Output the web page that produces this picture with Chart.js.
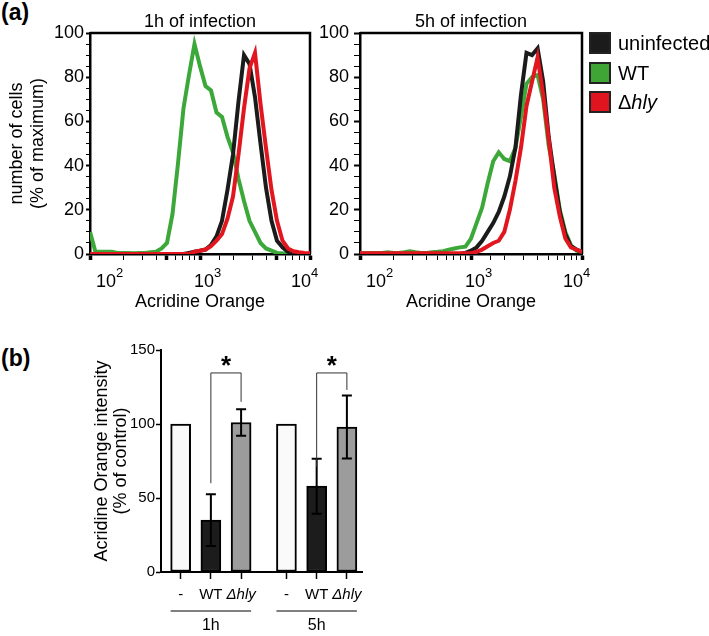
<!DOCTYPE html>
<html>
<head>
<meta charset="utf-8">
<script src="https://cdn.jsdelivr.net/npm/chart.js@4.4.1/dist/chart.umd.min.js"></script>
<style>
    body { margin: 0; background: #fff; width: 709px; height: 636px; position: relative; overflow: hidden;
           font-family: 'Liberation Sans', Arial, sans-serif; color: #000; }
    canvas { position: absolute; }
    .tag { position: absolute; font-weight: bold; font-size: 23px; }
    .leg { position: absolute; left: 589px; height: 22px; display: flex; align-items: center; font-size: 20px; }
    .leg-box { width: 18px; height: 18px; border: 2px solid #222; margin-right: 7px; }
</style>
</head>
<body>
<div class="tag" style="left:1px;top:-1px">(a)</div>
<div class="tag" style="left:1px;top:345px">(b)</div>

<canvas id="chart-1h" width="330" height="320" style="left:0;top:0"></canvas>
<canvas id="chart-5h" width="399" height="320" style="left:310px;top:0"></canvas>
<canvas id="chart-bars" width="709" height="306" style="left:0;top:330px"></canvas>

<div class="leg" style="top:32px"><div class="leg-box" style="background:#1b1b1b"></div>uninfected</div>
<div class="leg" style="top:62px"><div class="leg-box" style="background:#3fa535"></div>WT</div>
<div class="leg" style="top:91px"><div class="leg-box" style="background:#e0141e"></div><span>Δ</span><i>hly</i></div>

<script>
// ─── DATA: histograms (Acridine Orange, % of maximum) ─────
const intensity = [100, 112, 126, 141, 158, 178, 200, 224, 251, 282, 316, 355, 398, 447, 501, 562, 631, 708, 794, 891,
    1000, 1122, 1259, 1413, 1585, 1778, 1995, 2239, 2512, 2818, 3162, 3548, 3981, 4467, 5012, 5623, 6310, 7079, 7943, 8913, 10000]

const wt1h = [10, 1, 1, 1, 1, 0.5, 0.5, 0.5, 0.3, 0.5, 0.5, 0.8, 1, 2.5, 5, 18, 41, 66, 81, 95,
    85, 76, 74, 64, 62, 53, 46, 34, 24, 15, 10, 5, 2.5, 1.5, 0.5, 0.3, 0.2, 0, 0, 0, 0]
const uninf1h = [0, 0, 0, 0, 0, 0, 0, 0, 0, 0, 0, 0, 0, 0, 0, 0, 0, 0, 0.5, 1,
    1.5, 2, 4, 8, 15, 29, 45, 69, 90, 86, 71, 50, 30, 15, 6, 3, 1, 0.5, 0.2, 0, 0]
const hly1h = [0, 0, 0, 0, 0, 0, 0, 0, 0, 0, 0, 0, 0, 0, 0, 0, 0, 0, 0, 1,
    1.5, 2, 3.5, 6, 9, 16, 26, 45, 66, 84, 91, 68, 48, 29, 15, 6, 2.5, 1.2, 0.8, 0.5, 0.3]

const wt5h = [0.3, 0.3, 0.5, 0.5, 0.5, 0.8, 0.5, 0.5, 0.8, 1.2, 0.8, 0.5, 0.5, 0.8, 1, 1.3, 2, 2.5, 3, 3.3,
    7, 14, 21, 32, 42, 46, 43, 42, 48, 62, 77, 80, 81, 70, 49, 36, 20, 10, 4, 1.5, 1]
const uninf5h = [0, 0, 0, 0, 0, 0, 0, 0, 0, 0, 0, 0, 0, 0, 0, 0, 0, 0, 0, 0.5,
    1.5, 3, 6, 10, 14, 19, 26, 35, 48, 72, 91, 90, 93, 78, 53, 35, 19, 9, 3.5, 2, 1]
const hly5h = [0.3, 0.3, 0.3, 0.3, 0.3, 0.3, 0.3, 0.3, 0.3, 0.3, 0.3, 0.3, 0.3, 0.3, 0.3, 0.3, 0.3, 0.3, 0.3, 0.3,
    0.3, 1, 2, 3.5, 5, 6, 10, 20, 33, 48, 67, 78, 89, 72, 52, 30, 17, 7, 3, 2, 1]

const decades = [100, 1000, 10000]
const decadeExp = ['2', '3', '4']

// ─── DATA: bar chart (b) ──────────────────────────────────
const groupLabels = ['1h', '5h']
const barLabels = ['-', 'WT', 'Δhly', '-', 'WT', 'Δhly']
const barPos = [1, 2, 3, 4.5, 5.5, 6.5]
const barMeans = [100, 35, 101, 100, 58, 98]
const barErr = [0, 17.5, 9, 0, 18.6, 21.3]
const barColors = ['#fafafa', '#1c1c1c', '#9c9c9c', '#fafafa', '#1c1c1c', '#9c9c9c']
// significance: bar indexes, bracket top, leg bottoms
const sigPairs = [[1, 2], [4, 5]]
const sigTop = [134.5, 134.5]
const sigLegLow = [[60, 115], [71, 123]]

const GREEN = '#3da83a'
const RED = '#e1161f'
const BLACK = '#1b1b1b'
const SANS = "'Liberation Sans', Arial, sans-serif"

Chart.defaults.font.family = SANS
Chart.defaults.color = '#000'

// ─── PLUGINS ──────────────────────────────────────────────
const panelFrame = {
    id: 'panelFrame',
    beforeDatasetsDraw(chart) {
        const { ctx, chartArea: a } = chart
        ctx.save()
        ctx.strokeStyle = '#000'
        ctx.lineWidth = 2.5
        ctx.beginPath()
        ctx.moveTo(a.left, a.top)
        ctx.lineTo(a.right, a.top)
        ctx.lineTo(a.right, a.bottom)
        ctx.stroke()
        ctx.restore()
    },
    afterDraw(chart, args, opts) {
        const { ctx, chartArea: a, scales: { x } } = chart
        ctx.save()
        ctx.fillStyle = '#000'
        ctx.font = `18px ${SANS}`
        ctx.textAlign = 'center'
        ctx.textBaseline = 'alphabetic'
        ctx.fillText(opts.text, (a.left + a.right) / 2, 27)

        // decade labels 10^n, pulled inward at the ends like the original
        const shift = [16, 4, -9]
        decades.forEach((d, i) => {
            const cx = x.getPixelForValue(d) + shift[i]
            ctx.font = `18px ${SANS}`
            ctx.textAlign = 'center'
            ctx.fillText('10', cx, a.bottom + 33)
            const w = ctx.measureText('10').width
            ctx.font = `13px ${SANS}`
            ctx.textAlign = 'left'
            ctx.fillText(decadeExp[i], cx + w / 2, a.bottom + 23)
        })
        ctx.restore()
    }
}

const barExtras = {
    id: 'barExtras',
    afterDatasetsDraw(chart) {
        const { ctx, chartArea: a, scales: { x, y } } = chart
        ctx.save()
        ctx.strokeStyle = '#000'
        ctx.lineWidth = 2
        barPos.forEach((p, i) => {
            if (!barErr[i]) return
            const px = x.getPixelForValue(p)
            const hi = y.getPixelForValue(barMeans[i] + barErr[i])
            const lo = y.getPixelForValue(barMeans[i] - barErr[i])
            ctx.beginPath()
            ctx.moveTo(px, hi); ctx.lineTo(px, lo)
            ctx.moveTo(px - 5, hi); ctx.lineTo(px + 5, hi)
            ctx.moveTo(px - 5, lo); ctx.lineTo(px + 5, lo)
            ctx.stroke()
        })

        sigPairs.forEach(([i, j], k) => {
            const xa = x.getPixelForValue(barPos[i])
            const xb = x.getPixelForValue(barPos[j])
            const top = y.getPixelForValue(sigTop[k])
            ctx.strokeStyle = '#333'
            ctx.lineWidth = 1
            ctx.beginPath()
            ctx.moveTo(xa, y.getPixelForValue(sigLegLow[k][0]))
            ctx.lineTo(xa, top)
            ctx.lineTo(xb, top)
            ctx.lineTo(xb, y.getPixelForValue(sigLegLow[k][1]))
            ctx.stroke()
            ctx.fillStyle = '#000'
            ctx.font = `bold 26px ${SANS}`
            ctx.textAlign = 'center'
            ctx.textBaseline = 'alphabetic'
            ctx.fillText('*', (xa + xb) / 2, top + 1)
        })

        groupLabels.forEach((g, k) => {
            const x0 = x.getPixelForValue(barPos[k * 3]) - 10
            const x1 = x.getPixelForValue(barPos[k * 3 + 2]) + 10
            const ly = a.bottom + 39
            ctx.strokeStyle = '#000'
            ctx.lineWidth = 1
            ctx.beginPath()
            ctx.moveTo(x0, ly); ctx.lineTo(x1, ly)
            ctx.stroke()
            ctx.fillStyle = '#000'
            ctx.font = `16px ${SANS}`
            ctx.textAlign = 'center'
            ctx.textBaseline = 'middle'
            ctx.fillText(g, (x0 + x1) / 2, a.bottom + 54)
        })
        ctx.restore()
    }
}

// ─── HISTOGRAMS ───────────────────────────────────────────
function points(values) {
    return intensity.map((v, i) => ({ x: v, y: values[i] }))
}

function histogram(id, title, series, cfg) {
    return new Chart(document.getElementById(id), {
        type: 'line',
        data: {
            datasets: [
                { label: 'Δhly', data: points(series.hly), borderColor: RED, order: 1 },
                { label: 'uninfected', data: points(series.uninf), borderColor: BLACK, order: 2 },
                { label: 'WT', data: points(series.wt), borderColor: GREEN, order: 3 }
            ]
        },
        options: {
            responsive: false,
            animation: false,
            elements: { point: { radius: 0 }, line: { borderWidth: 4, tension: 0 } },
            layout: { padding: { top: 33, right: cfg.padRight, bottom: 7, left: 0 } },
            plugins: { legend: { display: false }, tooltip: { enabled: false }, panelFrame: { text: title } },
            scales: {
                x: {
                    type: 'logarithmic', min: 100, max: 10000,
                    afterFit: s => { s.height = 59 },
                    border: { color: '#000', width: 2.5 },
                    grid: {
                        drawOnChartArea: false, tickLength: 6, tickColor: '#000',
                        tickWidth: c => c.tick && cfg.majorX.includes(c.tick.value) ? 3.5 : 1
                    },
                    ticks: { autoSkip: false, maxRotation: 0, callback: () => '' },
                    title: { display: true, text: 'Acridine Orange', color: '#000', font: { size: 18 }, padding: 0 }
                },
                y: {
                    min: 0, max: 100,
                    afterFit: s => { s.width = cfg.yWidth },
                    border: { color: '#000', width: 2.5 },
                    grid: {
                        drawOnChartArea: false, tickLength: cfg.tickLen, tickColor: '#000',
                        tickWidth: c => c.tick && c.tick.value % 20 === 0 ? 2 : 1
                    },
                    ticks: {
                        stepSize: 5, autoSkip: false, padding: cfg.tickPad, color: '#000', font: { size: 18 },
                        callback: v => v % 20 === 0 ? v : ''
                    },
                    title: cfg.yTitle
                        ? { display: true, text: cfg.yTitle, color: '#000', font: { size: 18 }, padding: { top: 6, bottom: 0 } }
                        : { display: false }
                }
            }
        },
        plugins: [panelFrame]
    })
}

histogram('chart-1h', '1h of infection', { wt: wt1h, uninf: uninf1h, hly: hly1h }, {
    padRight: 20, yWidth: 90, tickLen: 4, tickPad: 2,
    majorX: [100, 500, 1000, 5000, 10000],
    yTitle: ['number of cells', '(% of maximum)']
})

histogram('chart-5h', '5h of infection', { wt: wt5h, uninf: uninf5h, hly: hly5h }, {
    padRight: 127, yWidth: 50, tickLen: 6, tickPad: 5,
    majorX: [100, 1000, 10000],
    yTitle: null
})

// ─── BARS ─────────────────────────────────────────────────
new Chart(document.getElementById('chart-bars'), {
    type: 'bar',
    data: {
        datasets: [{
            data: barPos.map((p, i) => ({ x: p, y: barMeans[i] })),
            backgroundColor: barColors,
            borderColor: '#000',
            borderWidth: 2,
            borderSkipped: false,
            barThickness: 20
        }]
    },
    options: {
        responsive: false,
        animation: false,
        layout: { padding: { left: 93, top: 20, right: 347, bottom: 0 } },
        plugins: { legend: { display: false }, tooltip: { enabled: false } },
        scales: {
            x: {
                type: 'linear', min: 0.35, max: 7, offset: false,
                afterFit: s => { s.height = 64 },
                afterBuildTicks: s => { s.ticks = barPos.map(v => ({ value: v })) },
                border: { color: '#000', width: 2 },
                grid: { drawOnChartArea: false, offset: false, tickLength: 7, tickColor: '#000', tickWidth: 1.5 },
                ticks: {
                    autoSkip: false, maxRotation: 0, padding: 7, color: '#000',
                    font: c => ({ size: 15, style: c.index % 3 === 2 ? 'italic' : 'normal' }),
                    callback: (v, i) => barLabels[i]
                }
            },
            y: {
                min: 0, max: 150,
                afterFit: s => { s.width = 68 },
                border: { color: '#000', width: 2 },
                grid: { drawOnChartArea: false, tickLength: 5, tickColor: '#000', tickWidth: 1.5 },
                ticks: { stepSize: 50, padding: 1, color: '#000', font: { size: 15 } },
                title: {
                    display: true, text: ['Acridine Orange intensity', '(% of control)'],
                    color: '#000', font: { size: 18, lineHeight: 1.05 }, padding: 0
                }
            }
        }
    },
    plugins: [barExtras]
})
</script>
</body>
</html>
